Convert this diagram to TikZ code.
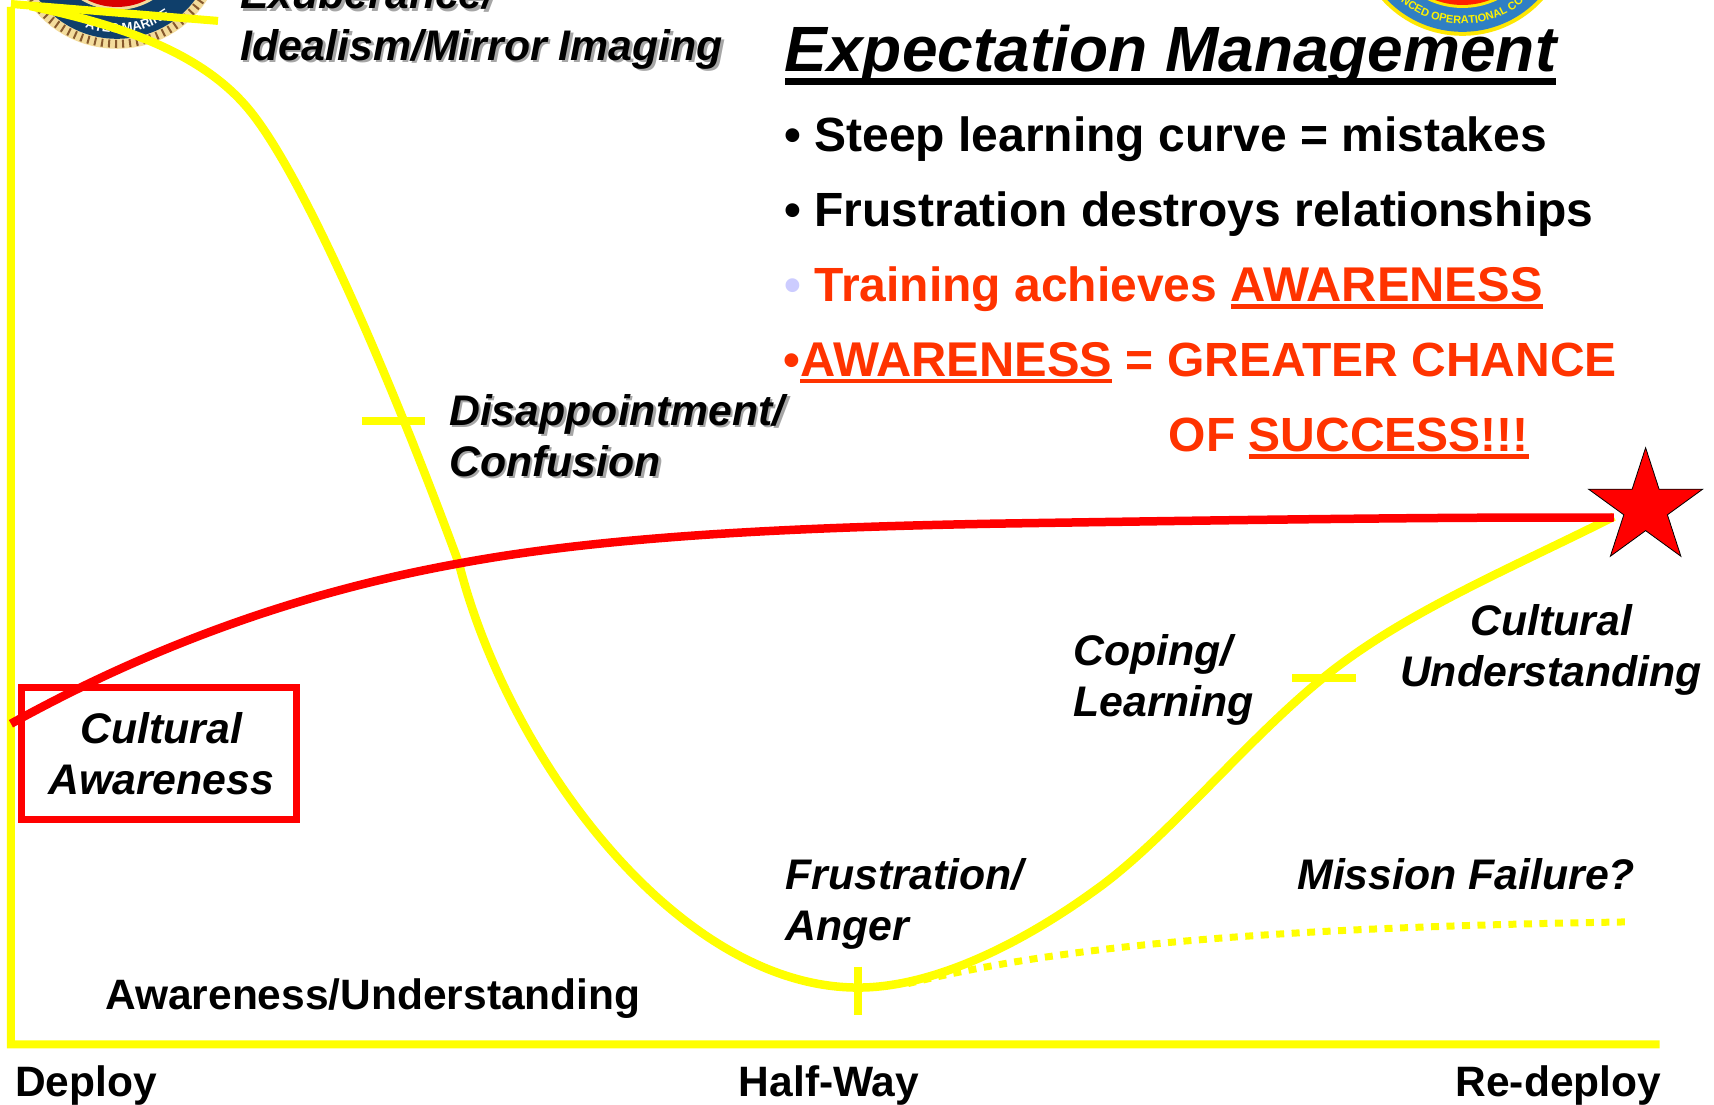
\documentclass[tikz,border=0pt]{standalone}
\usepackage{fontspec}
\setmainfont{Liberation Sans}
\usetikzlibrary{shapes.geometric,decorations.text}
\definecolor{yel}{HTML}{FFFF00}
\definecolor{org}{HTML}{FF3300}
\definecolor{sred}{HTML}{FF0000}
\definecolor{navy}{HTML}{0F3F6B}
\definecolor{rope}{HTML}{F3DC9C}
\definecolor{sealblue}{HTML}{2F7FC4}
\newcommand\ulrule[3]{\leavevmode\setbox0\hbox{#3}\rlap{\rule[-#1]{\wd0}{#2}}\box0\relax}
\newcommand\bigger[1]{{\fontsize{48.8}{49}\selectfont #1}}
\tikzset{
 lbl/.style={anchor=base west,inner sep=0pt,font=\fontsize{42.8}{43}\selectfont\bfseries\itshape},
 lblc/.style={anchor=base,inner sep=0pt,font=\fontsize{42.8}{43}\selectfont\bfseries\itshape},
 axislab/.style={anchor=base west,inner sep=0pt,font=\fontsize{42.5}{43}\selectfont\bfseries},
 bul/.style={anchor=base west,inner sep=0pt,font=\fontsize{48}{48}\selectfont\bfseries},
 bulo/.style={anchor=base west,inner sep=0pt,text=org,font=\fontsize{48}{49}\selectfont\bfseries},
 ttl/.style={anchor=base west,inner sep=0pt,font=\fontsize{64}{64}\selectfont\bfseries\itshape},
 ycurve/.style={draw=yel,line width=8pt},
 rcurve/.style={draw=sred,line width=8.5pt},
}
\newcommand\shnode[3]{\node[lbl,text=black!35] at (#1+2.5,#2+2.5) {#3};\node[lbl] at (#1,#2) {#3};}
\begin{document}
\begin{tikzpicture}[x=0.9955pt,y=-0.9955pt]
\useasboundingbox (0,0) rectangle (1721.7,1109);
\begin{scope}
\clip (0,0) rectangle (1721.7,1109);
% left seal
\fill[rope] (117.5,-59) circle (108);
\draw[brown!70!black,line width=8pt,dash pattern=on 2pt off 5pt] (117.5,-59) circle (103);
\fill[navy] (117.5,-59) circle (98);
\fill[rope] (117.5,-59) circle (69);
\fill[red!85!black] (117.5,-59) circle (66);
\path[decorate,decoration={text along path,text align=center,text={|\fontsize{13}{13}\selectfont\bfseries\color{white}|ATES MARINE}}] (64.7,16.4) .. controls (103.8,43.8) and (157.3,36.6) .. (188,0.1);
% right seal
\fill[yellow!90!orange] (1469,-73) circle (109);
\fill[sealblue] (1469,-73) circle (105);
\fill[yellow!90!orange] (1469,-73) circle (81);
\fill[red!75!orange] (1469,-73) circle (78);
\path[decorate,decoration={text along path,text align=center,text={|\fontsize{11}{11}\selectfont\bfseries\color{yellow}|NCED OPERATIONAL CO}}] (1406.65,1.3) .. controls (1442.7,31.6) and (1495.3,31.6) .. (1531.35,1.3);
\end{scope}
% axes
\draw[ycurve] (219,21) -- (11,4) (11,7) -- (11,1049) -- (1667,1049);
% ticks
\draw[ycurve] (364,423) -- (427,423);
\draw[ycurve] (1298,681) -- (1362,681);
\draw[ycurve] (862,971) -- (862,1020);
% dotted failure branch
\draw[ycurve,line width=7pt,dash pattern=on 8pt off 7.5pt] (912,988) .. controls (1060,952) and (1250,932) .. (1637,926);
% main curve
\draw[ycurve,line width=8.5pt] (30,6) .. controls (120,25) and (202,52) .. (250,110)
  .. controls (308,180) and (400,400) .. (461,566)
  .. controls (510,760) and (680,992) .. (862,992)
  .. controls (940,992) and (1030,945) .. (1099,895)
  .. controls (1170,845) and (1250,745) .. (1329,681)
  .. controls (1410,615) and (1520,570) .. (1621,519);
% red
\draw[rcurve] (11,727) .. controls (150,650) and (300,595) .. (461,566)
  .. controls (600,540) and (780,530) .. (1000,526)
  .. controls (1200,523) and (1450,519) .. (1621,520);
\draw[sred,line width=7pt] (22,691) rectangle (298,823);
\node[star,star points=5,star point ratio=2.618,minimum size=120pt,inner sep=0pt,fill=sred,draw=black,line width=0.8pt] (goal) at (1653,510) {};
% labels
\shnode{241}{9}{Exuberance/}
\shnode{241}{60.5}{Idealism/Mirror Imaging}
\shnode{451}{427}{Disappointment/}
\shnode{451}{478.5}{Confusion}
\node[lblc] (ca1) at (162,747) {Cultural};
\node[lblc] (ca2) at (162,798) {Awareness};
\node[lbl] (cl1) at (1078,668) {Coping/};
\node[lbl] (cl2) at (1078,720) {Learning};
\node[lblc] (cu1) at (1558,638) {Cultural};
\node[lblc] (cu2) at (1558,690) {Understanding};
\node[lbl] (fa1) at (789,893) {Frustration/};
\node[lbl] (fa2) at (789,945) {Anger};
\node[lbl] (mf) at (1303,893) {Mission Failure?};
\node[axislab] (au) at (105.5,1014) {Awareness/Understanding};
\node[axislab] (dp) at (15,1101) {Deploy};
\node[axislab] (hw) at (742,1101) {Half-Way};
\node[axislab] (rd) at (1462,1101) {Re-deploy};
% title and bullets
\node[ttl] (title) at (788,72) {\ulrule{13pt}{7pt}{Expectation Management}};
\node[bul] (b1) at (788,152) {•};
\node[bul] (t1) at (818,152) {Steep learning curve = mistakes};
\node[bul] (b2) at (788,228) {•};
\node[bul] (t2) at (818,228) {Frustration destroys relationships};
\node[bul,text=blue!20] (b3) at (788,303) {•};
\node[bulo] (t3) at (818,303) {Training achieves \bigger{\ulrule{7pt}{4.5pt}{AWARENESS}}};
\node[bulo] (t4) at (787,378) {•\bigger{\ulrule{7pt}{4.5pt}{AWARENESS}} = GREATER CHANCE};
\node[bulo] (t5) at (1174,454) {OF \ulrule{7pt}{4.5pt}{SUCCESS!!!}};
\end{tikzpicture}
\end{document}
